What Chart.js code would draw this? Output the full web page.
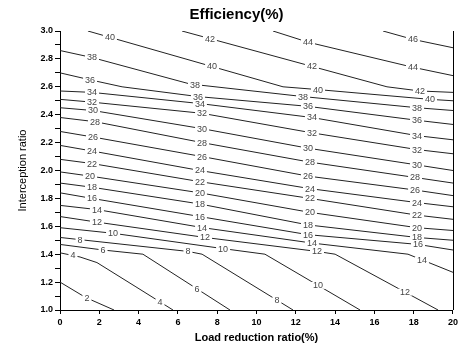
<!DOCTYPE html>
<html>
<head>
<meta charset="utf-8">
<script src="https://cdn.jsdelivr.net/npm/chart.js@4"></script>
<style>
  html, body { margin: 0; padding: 0; background: #fff; }
  #wrap { width: 461px; height: 350px; }
</style>
</head>
<body>
<div id="wrap"><canvas id="effChart"></canvas></div>
<script>
// contour levels of efficiency (%)
const levels = [2, 4, 6, 8, 10, 12, 14, 16, 18, 20, 22, 24, 26, 28, 30, 32, 34, 36, 38, 40, 42, 44, 46];

// each contour: [load reduction ratio, interception ratio] points
const c2  = [[0, 1.20], [1.30, 1.09], [2.75, 1.00]];
const c4  = [[0, 1.41], [1.02, 1.38], [1.88, 1.34], [3.82, 1.17], [5.75, 1.00]];
const c6  = [[0, 1.47], [2.19, 1.43], [4.22, 1.40], [8.65, 1.00]];
const c8  = [[0, 1.52], [6.51, 1.42], [7.23, 1.40], [11.86, 1.00]];
const c10 = [[0, 1.59], [2.70, 1.55], [8.30, 1.44], [10.43, 1.40], [15.27, 1.00]];
const c12 = [[0, 1.67], [1.88, 1.63], [7.38, 1.52], [13.08, 1.42], [14.00, 1.40], [19.24, 1.00]];
const c14 = [[0, 1.75], [1.88, 1.72], [7.28, 1.59], [12.82, 1.48], [17.71, 1.40], [20, 1.27]];
const c16 = [[0, 1.84], [1.63, 1.80], [7.12, 1.67], [12.62, 1.54], [18.22, 1.47], [20, 1.43]];
const c18 = [[0, 1.91], [1.63, 1.88], [7.12, 1.76], [12.62, 1.61], [18.17, 1.52], [20, 1.50]];
const c20 = [[0, 1.99], [1.53, 1.96], [7.12, 1.84], [12.72, 1.70], [18.17, 1.59], [20, 1.57]];
const c22 = [[0, 2.08], [1.63, 2.05], [7.12, 1.92], [12.72, 1.80], [18.17, 1.68], [20, 1.65]];
const c24 = [[0, 2.18], [1.63, 2.14], [7.12, 2.00], [12.72, 1.87], [18.17, 1.77], [20, 1.74]];
const c26 = [[0, 2.28], [1.68, 2.24], [7.23, 2.10], [12.62, 1.96], [18.07, 1.86], [20, 1.82]];
const c28 = [[0, 2.38], [1.78, 2.35], [7.23, 2.20], [12.72, 2.06], [18.07, 1.95], [20, 1.91]];
const c30 = [[0, 2.45], [1.68, 2.43], [7.23, 2.30], [12.62, 2.16], [18.17, 2.04], [20, 2.00]];
const c32 = [[0, 2.51], [1.63, 2.49], [7.23, 2.41], [12.82, 2.27], [18.17, 2.15], [20, 2.12]];
const c34 = [[0, 2.57], [1.63, 2.56], [7.12, 2.48], [12.82, 2.38], [18.17, 2.25], [20, 2.22]];
const c36 = [[0, 2.70], [1.53, 2.65], [3.16, 2.60], [7.02, 2.53], [12.62, 2.46], [18.17, 2.36], [20, 2.33]];
const c38 = [[0, 2.86], [1.63, 2.81], [6.62, 2.62], [12.37, 2.53], [18.17, 2.45], [20, 2.43]];
const c40 = [[1.42, 3.00], [11.35, 2.60], [13.13, 2.58], [18.83, 2.51], [20, 2.50]];
const c42 = [[6.21, 3.00], [16.64, 2.60], [18.32, 2.57], [20, 2.56]];
const c44 = [[10.84, 3.00], [12.62, 2.92], [17.96, 2.74], [20, 2.68]];
const c46 = [[16.44, 3.00], [17.96, 2.94], [20, 2.88]];

// x positions of the inline level labels on each contour
const lab2  = [1.37];
const lab4  = [0.66, 5.09];
const lab6  = [2.19, 6.97];
const lab8  = [1.02, 6.51, 11.04];
const lab10 = [2.70, 8.30, 13.13];
const lab12 = [1.88, 7.38, 13.08, 17.56];
const lab14 = [1.88, 7.23, 12.82, 18.42];
const lab16 = [1.63, 7.12, 12.62, 18.22];
const lab18 = [1.63, 7.12, 12.62, 18.17];
const lab20 = [1.53, 7.12, 12.72, 18.17];
const lab22 = [1.63, 7.12, 12.72, 18.17];
const lab24 = [1.63, 7.12, 12.72, 18.17];
const lab26 = [1.68, 7.23, 12.62, 18.07];
const lab28 = [1.78, 7.23, 12.72, 18.07];
const lab30 = [1.68, 7.23, 12.62, 18.17];
const lab32 = [1.63, 7.23, 12.82, 18.17];
const lab34 = [1.63, 7.12, 12.82, 18.17];
const lab36 = [1.53, 7.02, 12.62, 18.17];
const lab38 = [1.63, 6.87, 12.37, 18.17];
const lab40 = [2.54, 7.74, 13.13, 18.83];
const lab42 = [7.63, 12.82, 18.32];
const lab44 = [12.62, 17.96];
const lab46 = [17.96];

const contours = [c2, c4, c6, c8, c10, c12, c14, c16, c18, c20, c22, c24, c26, c28, c30, c32, c34, c36, c38, c40, c42, c44, c46];
const labelSpots = [lab2, lab4, lab6, lab8, lab10, lab12, lab14, lab16, lab18, lab20, lab22, lab24, lab26, lab28, lab30, lab32, lab34, lab36, lab38, lab40, lab42, lab44, lab46];

function yAt(line, x) {
  for (let i = 1; i < line.length; i++) {
    const a = line[i - 1], b = line[i];
    if (x <= b[0]) {
      const t = (x - a[0]) / (b[0] - a[0]);
      return a[1] + t * (b[1] - a[1]);
    }
  }
  return line[line.length - 1][1];
}

const labelPlugin = {
  id: "contourLabels",
  afterDatasetsDraw(chart) {
    const { ctx, chartArea, scales } = chart;
    ctx.save();
    // right frame line
    ctx.strokeStyle = "#000";
    ctx.lineWidth = 1;
    ctx.beginPath();
    ctx.moveTo(Math.round(chartArea.right) + 0.5, chartArea.top);
    ctx.lineTo(Math.round(chartArea.right) + 0.5, chartArea.bottom);
    ctx.stroke();

    ctx.font = "9px 'Liberation Sans', Arial, sans-serif";
    ctx.textAlign = "center";
    ctx.textBaseline = "middle";
    levels.forEach((lv, i) => {
      labelSpots[i].forEach(x => {
        const px = scales.x.getPixelForValue(x);
        const py = scales.y.getPixelForValue(yAt(contours[i], x));
        const w = ctx.measureText(String(lv)).width + 4;
        ctx.fillStyle = "#fff";
        ctx.fillRect(px - w / 2, py - 3.5, w, 7);
        ctx.fillStyle = "#444";
        ctx.fillText(String(lv), px, py + 0.5);
      });
    });
    ctx.restore();
  }
};

const tickFont = { family: "'Liberation Sans', Arial, sans-serif", size: 9, weight: "bold" };

new Chart(document.getElementById("effChart"), {
  type: "scatter",
  data: {
    datasets: levels.map((lv, i) => ({
      label: String(lv),
      data: contours[i].map(p => ({ x: p[0], y: p[1] })),
      showLine: true,
      borderColor: "#222",
      borderWidth: 1,
      pointRadius: 0,
      fill: false,
      tension: 0
    }))
  },
  options: {
    responsive: true,
    maintainAspectRatio: false,
    animation: false,
    layout: { padding: { left: 20, right: 8, top: 0, bottom: 0 } },
    plugins: {
      legend: { display: false },
      tooltip: { enabled: false },
      title: {
        display: true,
        text: "Efficiency(%)",
        color: "#000",
        font: { family: "'Liberation Sans', Arial, sans-serif", size: 15, weight: "bold" },
        padding: { top: 6, bottom: 7 }
      }
    },
    scales: {
      x: {
        type: "linear",
        min: 0,
        max: 20,
        ticks: { stepSize: 2, color: "#000", font: tickFont, padding: 3 },
        grid: { drawOnChartArea: false, color: "#000", tickLength: 4 },
        border: { color: "#000" },
        title: {
          display: true,
          text: "Load reduction ratio(%)",
          color: "#000",
          font: { family: "'Liberation Sans', Arial, sans-serif", size: 11, weight: "bold" },
          padding: { top: 0, bottom: 5 }
        },
        afterFit: s => { s.height = 40; }
      },
      y: {
        type: "linear",
        min: 1,
        max: 3,
        ticks: {
          stepSize: 0.1,
          autoSkip: false,
          color: "#000",
          font: tickFont,
          padding: 2,
          callback: v => (Math.round(v * 10) % 2 === 0 ? Number(v).toFixed(1) : "")
        },
        grid: { drawOnChartArea: false, color: "#000", tickLength: 5 },
        border: { color: "#000" },
        title: {
          display: true,
          text: "Interception ratio",
          color: "#000",
          font: { family: "'Liberation Sans', Arial, sans-serif", size: 11 },
          padding: { top: -4, bottom: 0 }
        },
        afterFit: s => { s.width = 40; }
      }
    }
  },
  plugins: [labelPlugin]
});
</script>
</body>
</html>
